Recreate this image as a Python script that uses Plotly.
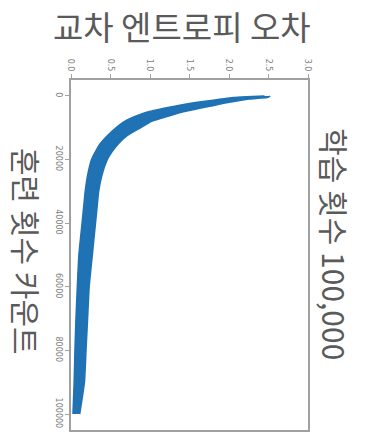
import plotly.graph_objects as go

# Training iterations (rows of the rotated chart) and the visible spread of the loss
iterations = [0, 250, 500, 1000, 1500, 2000, 3000, 4000, 5000, 6000, 8000, 10000,
              12500, 15000, 17500, 20000, 25000, 30000, 35000, 40000, 50000, 60000,
              70000, 80000, 90000, 100000]
loss_low = [2.45, 2.22, 2.05, 1.90, 1.75, 1.60, 1.36, 1.15, 0.98, 0.86, 0.68, 0.57,
            0.46, 0.37, 0.31, 0.26, 0.21, 0.18, 0.16, 0.14, 0.10, 0.08,
            0.063, 0.05, 0.04, 0.025]
loss_high = [2.52, 2.51, 2.48, 2.25, 2.12, 2.00, 1.81, 1.60, 1.42, 1.28, 1.02, 0.88,
             0.71, 0.60, 0.52, 0.46, 0.39, 0.35, 0.33, 0.31, 0.27, 0.23,
             0.21, 0.19, 0.17, 0.11]

loss_ticks = [0.0, 0.5, 1.0, 1.5, 2.0, 2.5, 3.0]
loss_tick_text = ["0.0", "0.5", "1.0", "1.5", "2.0", "2.5", "3.0"]
iter_ticks = [0, 20000, 40000, 60000, 80000, 100000]
iter_tick_text = ["0", "20000", "40000", "60000", "80000", "100000"]

title_text = "교차 엔트로피 오차"
right_text = "학습 횟수 100,000"
left_text = "훈련 횟수 카운트"

blue = "#1f72b4"

fig = go.Figure()
fig.add_trace(go.Scatter(
    x=loss_low, y=iterations, mode="lines",
    line=dict(color=blue, width=1.5, shape="spline", smoothing=0.5),
    hoverinfo="skip", showlegend=False))
fig.add_trace(go.Scatter(
    x=loss_high, y=iterations, mode="lines", fill="tonextx", fillcolor=blue,
    line=dict(color=blue, width=1.5, shape="spline", smoothing=0.5),
    hoverinfo="skip", showlegend=False))

axis_grey = "#a0a0a0"
tick_font = dict(family="DejaVu Sans", size=8, color="#808080")

fig.update_layout(
    width=366, height=435,
    margin=dict(l=71, r=58, t=80, b=3),
    paper_bgcolor="white", plot_bgcolor="white",
    showlegend=False,
    xaxis=dict(
        side="top", range=[0, 3.0], tickvals=loss_ticks, ticktext=loss_tick_text,
        tickangle=90, ticks="outside", ticklen=4, tickcolor=axis_grey,
        showline=True, linecolor=axis_grey, linewidth=1.5, mirror=True,
        showgrid=False, zeroline=False, tickfont=tick_font),
    yaxis=dict(
        range=[105000, -5000], tickvals=iter_ticks, ticktext=iter_tick_text,
        tickangle=90, ticks="outside", ticklen=4, tickcolor=axis_grey,
        showline=True, linecolor=axis_grey, linewidth=1.5, mirror=True,
        showgrid=False, zeroline=False, tickfont=tick_font),
    font=dict(family="Noto Sans CJK KR"),
)

text_grey = "#5a5a5a"
fig.add_annotation(
    text=title_text, xref="paper", yref="paper", x=0.47, y=1.155,
    showarrow=False, xanchor="center", yanchor="middle",
    font=dict(family="Noto Sans CJK KR", size=33, color=text_grey))
fig.add_annotation(
    text=right_text, xref="paper", yref="paper", x=1.115, y=0.53,
    showarrow=False, xanchor="center", yanchor="middle", textangle=90,
    font=dict(family="Noto Sans CJK KR", size=30, color=text_grey))
fig.add_annotation(
    text=left_text, xref="paper", yref="paper", x=-0.185, y=0.511,
    showarrow=False, xanchor="center", yanchor="middle", textangle=90,
    font=dict(family="Noto Sans CJK KR", size=30, color=text_grey))

fig.write_html("out.html")
